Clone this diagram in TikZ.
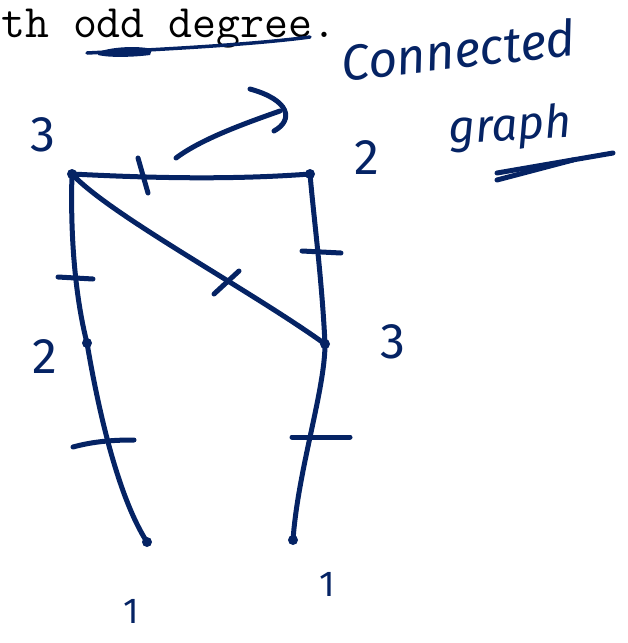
\documentclass[tikz,border=0pt]{standalone}
\usepackage{fontspec}
\newfontfamily\handfont{Fira Sans}
\definecolor{ink}{RGB}{5,35,100}
\begin{document}
\begin{tikzpicture}[x=1pt,y=-1pt,
  pen/.style={draw=ink,line width=5pt,line cap=round,line join=round},
  vtx/.style={circle,fill=ink,inner sep=0pt,minimum size=10pt},
  deg/.style={text=ink,font=\handfont\fontsize{50}{50}\selectfont,inner sep=0pt},
  one/.style={text=ink,font=\handfont\fontsize{36}{36}\selectfont,inner sep=0pt},
  word/.style={text=ink,font=\handfont\itshape\fontsize{50}{50}\selectfont,inner sep=0pt}]
\useasboundingbox (0,0) rectangle (628,643);
% printed text
\node[anchor=base west,inner sep=0pt,font=\ttfamily\fontsize{46.5}{50}\selectfont] (txt) at (1,37) {th odd degree.};
% underline
\draw[pen,line width=3.5pt] (87,53) .. controls (150,50) and (250,45) .. (310,37);
\fill[ink] (98,52) .. controls (115,46) and (140,46) .. (152,49) -- (150,55) .. controls (135,57) and (110,58) .. (98,55) -- cycle;
% handwritten words
\node[word,rotate=6.5] (conn) at (458,50) {Connected};
\node[word,rotate=3,font=\handfont\itshape\fontsize{46}{46}\selectfont] (graph) at (510,128) {graph};
\draw[pen] (497,173) -- (613,153);
\draw[pen] (497,180) -- (573,160);
% arrow
\draw[pen] (176,158) .. controls (200,140) and (240,125) .. (280,111);
\draw[pen] (250,89) .. controls (290,100) and (294,120) .. (274,131);
% vertices
\node[vtx] (A) at (72,174) {};
\node[vtx] (B) at (310,174) {};
\node[vtx] (C) at (87,343) {};
\node[vtx] (D) at (325,344) {};
\node[vtx] (E) at (147,542) {};
\node[vtx] (F) at (293,540) {};
% edges
\draw[pen] (A.center) .. controls (150,178) and (230,180) .. (B.center);
\draw[pen] (A.center) .. controls (70,240) and (76,300) .. (C.center);
\draw[pen] (A.center) .. controls (110,215) and (250,290) .. (D.center);
\draw[pen] (B.center) .. controls (314,220) and (322,280) .. (D.center);
\draw[pen] (C.center) .. controls (100,420) and (120,500) .. (E.center);
\draw[pen] (D.center) .. controls (325,390) and (298,470) .. (F.center);
% ticks
\draw[pen] (138,158) -- (148,193);
\draw[pen] (58,277) -- (93,279);
\draw[pen] (214,294) -- (239,271);
\draw[pen] (302,251) -- (341,253);
\draw[pen] (73,447) .. controls (95,441) and (115,440) .. (134,440);
\draw[pen] (292,437) -- (350,437);
% degree labels
\node[deg] (lA) at (43,135) {3};
\node[deg] (lB) at (367,158) {2};
\node[deg] (lC) at (45,357) {2};
\node[deg] (lD) at (393,342) {3};
\node[one] (lE) at (131,611) {1};
\node[one] (lF) at (327,584) {1};
\end{tikzpicture}
\end{document}
